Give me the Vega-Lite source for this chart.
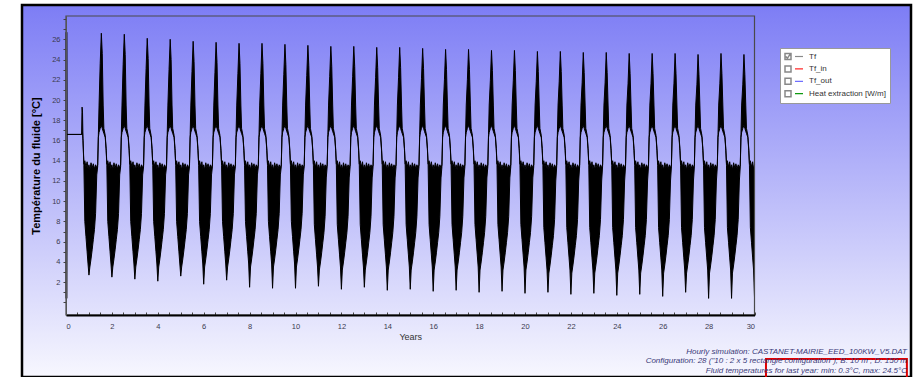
{
  "$schema": "https://vega.github.io/schema/vega-lite/v6.json",
  "width": 889,
  "height": 372,
  "autosize": "none",
  "padding": {"left": 22, "top": 5, "right": 12, "bottom": 0},
  "background": "white",
  "config": {
    "font": "Liberation Sans",
    "view": {"stroke": null},
    "axis": {"labelOverlap": false, "labelBound": false, "zindex": 2}
  },
  "title": {
    "text": "Hourly simulation: CASTANET-MAIRIE_EED_100KW_V5.DAT",
    "subtitle": ["Configuration: 28 (\"10 : 2 x 5 rectangle configuration\"); B: 10 m ; D: 150 m", "Fluid temperatures for last year: min: 0.3°C, max: 24.5°C"],
    "orient": "bottom",
    "anchor": "end",
    "frame": "group",
    "offset": -33.5,
    "dx": -4,
    "font": "Liberation Sans",
    "fontSize": 8,
    "fontStyle": "italic",
    "fontWeight": "normal",
    "color": "#3a3a78",
    "subtitleFont": "Liberation Sans",
    "subtitleFontSize": 8,
    "subtitleFontStyle": "italic",
    "subtitleColor": "#3a3a78",
    "subtitlePadding": 1.5,
    "subtitleLineHeight": 9.5
  },
  "layer": [
    {
      "data": {"values": [{}]},
      "mark": {
        "type": "rect", "clip": false, "stroke": "black", "strokeWidth": 2.5,
        "fill": {"gradient": "linear", "x1": 0, "y1": 0, "x2": 0, "y2": 1, "stops": [{"offset": 0, "color": "#7d7df5"}, {"offset": 1, "color": "#f7f7fe"}]}
      },
      "encoding": {
        "x": {"value": 0},
        "x2": {"value": "width"},
        "y": {"value": 0},
        "y2": {"value": "height"}
      }
    },
    {
      "data": {"values": [
        {"t":0,"lo":0.4,"hi":26.7},{"t":0.04,"lo":0.4,"hi":26.7},{"t":0.05,"lo":16.6,"hi":16.6},{"t":0.68,"lo":16.6,"hi":16.6},{"t":0.7,"lo":16.6,"hi":19.3},{"t":0.72,"lo":16.8,"hi":18.8},{"t":0.74,"lo":16.0,"hi":16.2},
        {"t":0.78,"lo":13.5,"hi":13.7},{"t":0.82,"lo":8.0,"hi":14.0},{"t":0.87,"lo":6.5,"hi":13.4},{"t":0.92,"lo":5.0,"hi":13.9},{"t":0.96,"lo":3.8,"hi":13.2},{"t":1.0,"lo":2.7,"hi":13.6},{"t":1.04,"lo":3.5,"hi":13.1},{"t":1.09,"lo":4.3,"hi":13.8},{"t":1.14,"lo":5.2,"hi":13.3},{"t":1.19,"lo":6.2,"hi":13.7},{"t":1.24,"lo":7.2,"hi":13.2},{"t":1.29,"lo":8.8,"hi":13.6},{"t":1.34,"lo":12.6,"hi":13.3},{"t":1.38,"lo":13.4,"hi":13.6},{"t":1.41,"lo":16.3,"hi":16.6},{"t":1.44,"lo":16.8,"hi":19.5},{"t":1.49,"lo":17.2,"hi":23.6},{"t":1.54,"lo":17.5,"hi":26.6},{"t":1.58,"lo":17.2,"hi":24.6},{"t":1.62,"lo":16.9,"hi":19.5},{"t":1.65,"lo":16.7,"hi":17.2},{"t":1.71,"lo":16.3,"hi":16.5},{"t":1.75,"lo":15.0,"hi":15.2},
        {"t":1.78,"lo":13.5,"hi":13.7},{"t":1.82,"lo":8.0,"hi":14.0},{"t":1.87,"lo":6.5,"hi":13.4},{"t":1.92,"lo":5.0,"hi":13.9},{"t":1.96,"lo":3.8,"hi":13.2},{"t":2.0,"lo":2.5,"hi":13.6},{"t":2.04,"lo":3.5,"hi":13.1},{"t":2.09,"lo":4.3,"hi":13.8},{"t":2.14,"lo":5.2,"hi":13.3},{"t":2.19,"lo":6.2,"hi":13.7},{"t":2.24,"lo":7.2,"hi":13.2},{"t":2.29,"lo":8.8,"hi":13.6},{"t":2.34,"lo":12.6,"hi":13.3},{"t":2.38,"lo":13.4,"hi":13.6},{"t":2.41,"lo":16.3,"hi":16.6},{"t":2.44,"lo":16.8,"hi":19.5},{"t":2.49,"lo":17.2,"hi":23.5},{"t":2.54,"lo":17.5,"hi":26.5},{"t":2.58,"lo":17.2,"hi":24.5},{"t":2.62,"lo":16.9,"hi":19.5},{"t":2.65,"lo":16.7,"hi":17.2},{"t":2.71,"lo":16.3,"hi":16.5},{"t":2.75,"lo":15.0,"hi":15.2},
        {"t":2.78,"lo":13.5,"hi":13.7},{"t":2.82,"lo":8.0,"hi":14.0},{"t":2.87,"lo":6.5,"hi":13.4},{"t":2.92,"lo":5.0,"hi":13.9},{"t":2.96,"lo":3.8,"hi":13.2},{"t":3.0,"lo":2.3,"hi":13.6},{"t":3.04,"lo":3.5,"hi":13.1},{"t":3.09,"lo":4.3,"hi":13.8},{"t":3.14,"lo":5.2,"hi":13.3},{"t":3.19,"lo":6.2,"hi":13.7},{"t":3.24,"lo":7.2,"hi":13.2},{"t":3.29,"lo":8.8,"hi":13.6},{"t":3.34,"lo":12.6,"hi":13.3},{"t":3.38,"lo":13.4,"hi":13.6},{"t":3.41,"lo":16.3,"hi":16.6},{"t":3.44,"lo":16.8,"hi":19.5},{"t":3.49,"lo":17.2,"hi":23.1},{"t":3.54,"lo":17.5,"hi":26.1},{"t":3.58,"lo":17.2,"hi":24.1},{"t":3.62,"lo":16.9,"hi":19.5},{"t":3.65,"lo":16.7,"hi":17.2},{"t":3.71,"lo":16.3,"hi":16.5},{"t":3.75,"lo":15.0,"hi":15.2},
        {"t":3.78,"lo":13.5,"hi":13.7},{"t":3.82,"lo":8.0,"hi":14.0},{"t":3.87,"lo":6.5,"hi":13.4},{"t":3.92,"lo":5.0,"hi":13.9},{"t":3.96,"lo":3.8,"hi":13.2},{"t":4.0,"lo":2.1,"hi":13.6},{"t":4.04,"lo":3.5,"hi":13.1},{"t":4.09,"lo":4.3,"hi":13.8},{"t":4.14,"lo":5.2,"hi":13.3},{"t":4.19,"lo":6.2,"hi":13.7},{"t":4.24,"lo":7.2,"hi":13.2},{"t":4.29,"lo":8.8,"hi":13.6},{"t":4.34,"lo":12.6,"hi":13.3},{"t":4.38,"lo":13.4,"hi":13.6},{"t":4.41,"lo":16.3,"hi":16.6},{"t":4.44,"lo":16.8,"hi":19.5},{"t":4.49,"lo":17.2,"hi":23.0},{"t":4.54,"lo":17.5,"hi":26.0},{"t":4.58,"lo":17.2,"hi":24.0},{"t":4.62,"lo":16.9,"hi":19.5},{"t":4.65,"lo":16.7,"hi":17.2},{"t":4.71,"lo":16.3,"hi":16.5},{"t":4.75,"lo":15.0,"hi":15.2},
        {"t":4.78,"lo":13.5,"hi":13.7},{"t":4.82,"lo":8.0,"hi":14.0},{"t":4.87,"lo":6.5,"hi":13.4},{"t":4.92,"lo":5.0,"hi":13.9},{"t":4.96,"lo":3.8,"hi":13.2},{"t":5.0,"lo":2.6,"hi":13.6},{"t":5.04,"lo":3.5,"hi":13.1},{"t":5.09,"lo":4.3,"hi":13.8},{"t":5.14,"lo":5.2,"hi":13.3},{"t":5.19,"lo":6.2,"hi":13.7},{"t":5.24,"lo":7.2,"hi":13.2},{"t":5.29,"lo":8.8,"hi":13.6},{"t":5.34,"lo":12.6,"hi":13.3},{"t":5.38,"lo":13.4,"hi":13.6},{"t":5.41,"lo":16.3,"hi":16.6},{"t":5.44,"lo":16.8,"hi":19.5},{"t":5.49,"lo":17.2,"hi":22.8},{"t":5.54,"lo":17.5,"hi":25.8},{"t":5.58,"lo":17.2,"hi":23.8},{"t":5.62,"lo":16.9,"hi":19.5},{"t":5.65,"lo":16.7,"hi":17.2},{"t":5.71,"lo":16.3,"hi":16.5},{"t":5.75,"lo":15.0,"hi":15.2},
        {"t":5.78,"lo":13.5,"hi":13.7},{"t":5.82,"lo":8.0,"hi":14.0},{"t":5.87,"lo":6.5,"hi":13.4},{"t":5.92,"lo":5.0,"hi":13.9},{"t":5.96,"lo":3.8,"hi":13.2},{"t":6.0,"lo":1.8,"hi":13.6},{"t":6.04,"lo":3.5,"hi":13.1},{"t":6.09,"lo":4.3,"hi":13.8},{"t":6.14,"lo":5.2,"hi":13.3},{"t":6.19,"lo":6.2,"hi":13.7},{"t":6.24,"lo":7.2,"hi":13.2},{"t":6.29,"lo":8.8,"hi":13.6},{"t":6.34,"lo":12.6,"hi":13.3},{"t":6.38,"lo":13.4,"hi":13.6},{"t":6.41,"lo":16.3,"hi":16.6},{"t":6.44,"lo":16.8,"hi":19.5},{"t":6.49,"lo":17.2,"hi":22.7},{"t":6.54,"lo":17.5,"hi":25.7},{"t":6.58,"lo":17.2,"hi":23.7},{"t":6.62,"lo":16.9,"hi":19.5},{"t":6.65,"lo":16.7,"hi":17.2},{"t":6.71,"lo":16.3,"hi":16.5},{"t":6.75,"lo":15.0,"hi":15.2},
        {"t":6.78,"lo":13.5,"hi":13.7},{"t":6.82,"lo":8.0,"hi":14.0},{"t":6.87,"lo":6.5,"hi":13.4},{"t":6.92,"lo":5.0,"hi":13.9},{"t":6.96,"lo":3.8,"hi":13.2},{"t":7.0,"lo":2.2,"hi":13.6},{"t":7.04,"lo":3.5,"hi":13.1},{"t":7.09,"lo":4.3,"hi":13.8},{"t":7.14,"lo":5.2,"hi":13.3},{"t":7.19,"lo":6.2,"hi":13.7},{"t":7.24,"lo":7.2,"hi":13.2},{"t":7.29,"lo":8.8,"hi":13.6},{"t":7.34,"lo":12.6,"hi":13.3},{"t":7.38,"lo":13.4,"hi":13.6},{"t":7.41,"lo":16.3,"hi":16.6},{"t":7.44,"lo":16.8,"hi":19.5},{"t":7.49,"lo":17.2,"hi":22.6},{"t":7.54,"lo":17.5,"hi":25.6},{"t":7.58,"lo":17.2,"hi":23.6},{"t":7.62,"lo":16.9,"hi":19.5},{"t":7.65,"lo":16.7,"hi":17.2},{"t":7.71,"lo":16.3,"hi":16.5},{"t":7.75,"lo":15.0,"hi":15.2},
        {"t":7.78,"lo":13.5,"hi":13.7},{"t":7.82,"lo":8.0,"hi":14.0},{"t":7.87,"lo":6.5,"hi":13.4},{"t":7.92,"lo":5.0,"hi":13.9},{"t":7.96,"lo":3.8,"hi":13.2},{"t":8.0,"lo":1.5,"hi":13.6},{"t":8.04,"lo":3.5,"hi":13.1},{"t":8.09,"lo":4.3,"hi":13.8},{"t":8.14,"lo":5.2,"hi":13.3},{"t":8.19,"lo":6.2,"hi":13.7},{"t":8.24,"lo":7.2,"hi":13.2},{"t":8.29,"lo":8.8,"hi":13.6},{"t":8.34,"lo":12.6,"hi":13.3},{"t":8.38,"lo":13.4,"hi":13.6},{"t":8.41,"lo":16.3,"hi":16.6},{"t":8.44,"lo":16.8,"hi":19.5},{"t":8.49,"lo":17.2,"hi":22.6},{"t":8.54,"lo":17.5,"hi":25.6},{"t":8.58,"lo":17.2,"hi":23.6},{"t":8.62,"lo":16.9,"hi":19.5},{"t":8.65,"lo":16.7,"hi":17.2},{"t":8.71,"lo":16.3,"hi":16.5},{"t":8.75,"lo":15.0,"hi":15.2},
        {"t":8.78,"lo":13.5,"hi":13.7},{"t":8.82,"lo":8.0,"hi":14.0},{"t":8.87,"lo":6.5,"hi":13.4},{"t":8.92,"lo":5.0,"hi":13.9},{"t":8.96,"lo":3.8,"hi":13.2},{"t":9.0,"lo":1.4,"hi":13.6},{"t":9.04,"lo":3.5,"hi":13.1},{"t":9.09,"lo":4.3,"hi":13.8},{"t":9.14,"lo":5.2,"hi":13.3},{"t":9.19,"lo":6.2,"hi":13.7},{"t":9.24,"lo":7.2,"hi":13.2},{"t":9.29,"lo":8.8,"hi":13.6},{"t":9.34,"lo":12.6,"hi":13.3},{"t":9.38,"lo":13.4,"hi":13.6},{"t":9.41,"lo":16.3,"hi":16.6},{"t":9.44,"lo":16.8,"hi":19.5},{"t":9.49,"lo":17.2,"hi":22.5},{"t":9.54,"lo":17.5,"hi":25.5},{"t":9.58,"lo":17.2,"hi":23.5},{"t":9.62,"lo":16.9,"hi":19.5},{"t":9.65,"lo":16.7,"hi":17.2},{"t":9.71,"lo":16.3,"hi":16.5},{"t":9.75,"lo":15.0,"hi":15.2},
        {"t":9.78,"lo":13.5,"hi":13.7},{"t":9.82,"lo":8.0,"hi":14.0},{"t":9.87,"lo":6.5,"hi":13.4},{"t":9.92,"lo":5.0,"hi":13.9},{"t":9.96,"lo":3.8,"hi":13.2},{"t":10.0,"lo":1.4,"hi":13.6},{"t":10.04,"lo":3.5,"hi":13.1},{"t":10.09,"lo":4.3,"hi":13.8},{"t":10.14,"lo":5.2,"hi":13.3},{"t":10.19,"lo":6.2,"hi":13.7},{"t":10.24,"lo":7.2,"hi":13.2},{"t":10.29,"lo":8.8,"hi":13.6},{"t":10.34,"lo":12.6,"hi":13.3},{"t":10.38,"lo":13.4,"hi":13.6},{"t":10.41,"lo":16.3,"hi":16.6},{"t":10.44,"lo":16.8,"hi":19.5},{"t":10.49,"lo":17.2,"hi":22.4},{"t":10.54,"lo":17.5,"hi":25.4},{"t":10.58,"lo":17.2,"hi":23.4},{"t":10.62,"lo":16.9,"hi":19.5},{"t":10.65,"lo":16.7,"hi":17.2},{"t":10.71,"lo":16.3,"hi":16.5},{"t":10.75,"lo":15.0,"hi":15.2},
        {"t":10.78,"lo":13.5,"hi":13.7},{"t":10.82,"lo":7.7,"hi":14.0},{"t":10.87,"lo":6.2,"hi":13.4},{"t":10.92,"lo":4.7,"hi":13.9},{"t":10.96,"lo":3.5,"hi":13.2},{"t":11.0,"lo":1.6,"hi":13.6},{"t":11.04,"lo":3.2,"hi":13.1},{"t":11.09,"lo":4.0,"hi":13.8},{"t":11.14,"lo":4.9,"hi":13.3},{"t":11.19,"lo":5.9,"hi":13.7},{"t":11.24,"lo":6.9,"hi":13.2},{"t":11.29,"lo":8.5,"hi":13.6},{"t":11.34,"lo":12.3,"hi":13.3},{"t":11.38,"lo":13.4,"hi":13.6},{"t":11.41,"lo":16.3,"hi":16.6},{"t":11.44,"lo":16.8,"hi":19.5},{"t":11.49,"lo":17.2,"hi":22.3},{"t":11.54,"lo":17.5,"hi":25.3},{"t":11.58,"lo":17.2,"hi":23.3},{"t":11.62,"lo":16.9,"hi":19.5},{"t":11.65,"lo":16.7,"hi":17.2},{"t":11.71,"lo":16.3,"hi":16.5},{"t":11.75,"lo":15.0,"hi":15.2},
        {"t":11.78,"lo":13.5,"hi":13.7},{"t":11.82,"lo":7.7,"hi":14.0},{"t":11.87,"lo":6.2,"hi":13.4},{"t":11.92,"lo":4.7,"hi":13.9},{"t":11.96,"lo":3.5,"hi":13.2},{"t":12.0,"lo":1.3,"hi":13.6},{"t":12.04,"lo":3.2,"hi":13.1},{"t":12.09,"lo":4.0,"hi":13.8},{"t":12.14,"lo":4.9,"hi":13.3},{"t":12.19,"lo":5.9,"hi":13.7},{"t":12.24,"lo":6.9,"hi":13.2},{"t":12.29,"lo":8.5,"hi":13.6},{"t":12.34,"lo":12.3,"hi":13.3},{"t":12.38,"lo":13.4,"hi":13.6},{"t":12.41,"lo":16.3,"hi":16.6},{"t":12.44,"lo":16.8,"hi":19.5},{"t":12.49,"lo":17.2,"hi":22.3},{"t":12.54,"lo":17.5,"hi":25.3},{"t":12.58,"lo":17.2,"hi":23.3},{"t":12.62,"lo":16.9,"hi":19.5},{"t":12.65,"lo":16.7,"hi":17.2},{"t":12.71,"lo":16.3,"hi":16.5},{"t":12.75,"lo":15.0,"hi":15.2},
        {"t":12.78,"lo":13.5,"hi":13.7},{"t":12.82,"lo":7.7,"hi":14.0},{"t":12.87,"lo":6.2,"hi":13.4},{"t":12.92,"lo":4.7,"hi":13.9},{"t":12.96,"lo":3.5,"hi":13.2},{"t":13.0,"lo":1.5,"hi":13.6},{"t":13.04,"lo":3.2,"hi":13.1},{"t":13.09,"lo":4.0,"hi":13.8},{"t":13.14,"lo":4.9,"hi":13.3},{"t":13.19,"lo":5.9,"hi":13.7},{"t":13.24,"lo":6.9,"hi":13.2},{"t":13.29,"lo":8.5,"hi":13.6},{"t":13.34,"lo":12.3,"hi":13.3},{"t":13.38,"lo":13.4,"hi":13.6},{"t":13.41,"lo":16.3,"hi":16.6},{"t":13.44,"lo":16.8,"hi":19.5},{"t":13.49,"lo":17.2,"hi":22.2},{"t":13.54,"lo":17.5,"hi":25.2},{"t":13.58,"lo":17.2,"hi":23.2},{"t":13.62,"lo":16.9,"hi":19.5},{"t":13.65,"lo":16.7,"hi":17.2},{"t":13.71,"lo":16.3,"hi":16.5},{"t":13.75,"lo":15.0,"hi":15.2},
        {"t":13.78,"lo":13.5,"hi":13.7},{"t":13.82,"lo":7.7,"hi":14.0},{"t":13.87,"lo":6.2,"hi":13.4},{"t":13.92,"lo":4.7,"hi":13.9},{"t":13.96,"lo":3.5,"hi":13.2},{"t":14.0,"lo":1.2,"hi":13.6},{"t":14.04,"lo":3.2,"hi":13.1},{"t":14.09,"lo":4.0,"hi":13.8},{"t":14.14,"lo":4.9,"hi":13.3},{"t":14.19,"lo":5.9,"hi":13.7},{"t":14.24,"lo":6.9,"hi":13.2},{"t":14.29,"lo":8.5,"hi":13.6},{"t":14.34,"lo":12.3,"hi":13.3},{"t":14.38,"lo":13.4,"hi":13.6},{"t":14.41,"lo":16.3,"hi":16.6},{"t":14.44,"lo":16.8,"hi":19.5},{"t":14.49,"lo":17.2,"hi":22.2},{"t":14.54,"lo":17.5,"hi":25.2},{"t":14.58,"lo":17.2,"hi":23.2},{"t":14.62,"lo":16.9,"hi":19.5},{"t":14.65,"lo":16.7,"hi":17.2},{"t":14.71,"lo":16.3,"hi":16.5},{"t":14.75,"lo":15.0,"hi":15.2},
        {"t":14.78,"lo":13.5,"hi":13.7},{"t":14.82,"lo":7.7,"hi":14.0},{"t":14.87,"lo":6.2,"hi":13.4},{"t":14.92,"lo":4.7,"hi":13.9},{"t":14.96,"lo":3.5,"hi":13.2},{"t":15.0,"lo":1.3,"hi":13.6},{"t":15.04,"lo":3.2,"hi":13.1},{"t":15.09,"lo":4.0,"hi":13.8},{"t":15.14,"lo":4.9,"hi":13.3},{"t":15.19,"lo":5.9,"hi":13.7},{"t":15.24,"lo":6.9,"hi":13.2},{"t":15.29,"lo":8.5,"hi":13.6},{"t":15.34,"lo":12.3,"hi":13.3},{"t":15.38,"lo":13.4,"hi":13.6},{"t":15.41,"lo":16.3,"hi":16.6},{"t":15.44,"lo":16.8,"hi":19.5},{"t":15.49,"lo":17.2,"hi":22.1},{"t":15.54,"lo":17.5,"hi":25.1},{"t":15.58,"lo":17.2,"hi":23.1},{"t":15.62,"lo":16.9,"hi":19.5},{"t":15.65,"lo":16.7,"hi":17.2},{"t":15.71,"lo":16.3,"hi":16.5},{"t":15.75,"lo":15.0,"hi":15.2},
        {"t":15.78,"lo":13.5,"hi":13.7},{"t":15.82,"lo":7.7,"hi":14.0},{"t":15.87,"lo":6.2,"hi":13.4},{"t":15.92,"lo":4.7,"hi":13.9},{"t":15.96,"lo":3.5,"hi":13.2},{"t":16.0,"lo":1.1,"hi":13.6},{"t":16.04,"lo":3.2,"hi":13.1},{"t":16.09,"lo":4.0,"hi":13.8},{"t":16.14,"lo":4.9,"hi":13.3},{"t":16.19,"lo":5.9,"hi":13.7},{"t":16.24,"lo":6.9,"hi":13.2},{"t":16.29,"lo":8.5,"hi":13.6},{"t":16.34,"lo":12.3,"hi":13.3},{"t":16.38,"lo":13.4,"hi":13.6},{"t":16.41,"lo":16.3,"hi":16.6},{"t":16.44,"lo":16.8,"hi":19.5},{"t":16.49,"lo":17.2,"hi":22.0},{"t":16.54,"lo":17.5,"hi":25.0},{"t":16.58,"lo":17.2,"hi":23.0},{"t":16.62,"lo":16.9,"hi":19.5},{"t":16.65,"lo":16.7,"hi":17.2},{"t":16.71,"lo":16.3,"hi":16.5},{"t":16.75,"lo":15.0,"hi":15.2},
        {"t":16.78,"lo":13.5,"hi":13.7},{"t":16.82,"lo":7.7,"hi":14.0},{"t":16.87,"lo":6.2,"hi":13.4},{"t":16.92,"lo":4.7,"hi":13.9},{"t":16.96,"lo":3.5,"hi":13.2},{"t":17.0,"lo":1.2,"hi":13.6},{"t":17.04,"lo":3.2,"hi":13.1},{"t":17.09,"lo":4.0,"hi":13.8},{"t":17.14,"lo":4.9,"hi":13.3},{"t":17.19,"lo":5.9,"hi":13.7},{"t":17.24,"lo":6.9,"hi":13.2},{"t":17.29,"lo":8.5,"hi":13.6},{"t":17.34,"lo":12.3,"hi":13.3},{"t":17.38,"lo":13.4,"hi":13.6},{"t":17.41,"lo":16.3,"hi":16.6},{"t":17.44,"lo":16.8,"hi":19.5},{"t":17.49,"lo":17.2,"hi":22.0},{"t":17.54,"lo":17.5,"hi":25.0},{"t":17.58,"lo":17.2,"hi":23.0},{"t":17.62,"lo":16.9,"hi":19.5},{"t":17.65,"lo":16.7,"hi":17.2},{"t":17.71,"lo":16.3,"hi":16.5},{"t":17.75,"lo":15.0,"hi":15.2},
        {"t":17.78,"lo":13.5,"hi":13.7},{"t":17.82,"lo":7.7,"hi":14.0},{"t":17.87,"lo":6.2,"hi":13.4},{"t":17.92,"lo":4.7,"hi":13.9},{"t":17.96,"lo":3.5,"hi":13.2},{"t":18.0,"lo":1.0,"hi":13.6},{"t":18.04,"lo":3.2,"hi":13.1},{"t":18.09,"lo":4.0,"hi":13.8},{"t":18.14,"lo":4.9,"hi":13.3},{"t":18.19,"lo":5.9,"hi":13.7},{"t":18.24,"lo":6.9,"hi":13.2},{"t":18.29,"lo":8.5,"hi":13.6},{"t":18.34,"lo":12.3,"hi":13.3},{"t":18.38,"lo":13.4,"hi":13.6},{"t":18.41,"lo":16.3,"hi":16.6},{"t":18.44,"lo":16.8,"hi":19.5},{"t":18.49,"lo":17.2,"hi":21.9},{"t":18.54,"lo":17.5,"hi":24.9},{"t":18.58,"lo":17.2,"hi":22.9},{"t":18.62,"lo":16.9,"hi":19.5},{"t":18.65,"lo":16.7,"hi":17.2},{"t":18.71,"lo":16.3,"hi":16.5},{"t":18.75,"lo":15.0,"hi":15.2},
        {"t":18.78,"lo":13.5,"hi":13.7},{"t":18.82,"lo":7.7,"hi":14.0},{"t":18.87,"lo":6.2,"hi":13.4},{"t":18.92,"lo":4.7,"hi":13.9},{"t":18.96,"lo":3.5,"hi":13.2},{"t":19.0,"lo":1.1,"hi":13.6},{"t":19.04,"lo":3.2,"hi":13.1},{"t":19.09,"lo":4.0,"hi":13.8},{"t":19.14,"lo":4.9,"hi":13.3},{"t":19.19,"lo":5.9,"hi":13.7},{"t":19.24,"lo":6.9,"hi":13.2},{"t":19.29,"lo":8.5,"hi":13.6},{"t":19.34,"lo":12.3,"hi":13.3},{"t":19.38,"lo":13.4,"hi":13.6},{"t":19.41,"lo":16.3,"hi":16.6},{"t":19.44,"lo":16.8,"hi":19.5},{"t":19.49,"lo":17.2,"hi":21.9},{"t":19.54,"lo":17.5,"hi":24.9},{"t":19.58,"lo":17.2,"hi":22.9},{"t":19.62,"lo":16.9,"hi":19.5},{"t":19.65,"lo":16.7,"hi":17.2},{"t":19.71,"lo":16.3,"hi":16.5},{"t":19.75,"lo":15.0,"hi":15.2},
        {"t":19.78,"lo":13.5,"hi":13.7},{"t":19.82,"lo":7.7,"hi":14.0},{"t":19.87,"lo":6.2,"hi":13.4},{"t":19.92,"lo":4.7,"hi":13.9},{"t":19.96,"lo":3.5,"hi":13.2},{"t":20.0,"lo":0.9,"hi":13.6},{"t":20.04,"lo":3.2,"hi":13.1},{"t":20.09,"lo":4.0,"hi":13.8},{"t":20.14,"lo":4.9,"hi":13.3},{"t":20.19,"lo":5.9,"hi":13.7},{"t":20.24,"lo":6.9,"hi":13.2},{"t":20.29,"lo":8.5,"hi":13.6},{"t":20.34,"lo":12.3,"hi":13.3},{"t":20.38,"lo":13.4,"hi":13.6},{"t":20.41,"lo":16.3,"hi":16.6},{"t":20.44,"lo":16.8,"hi":19.5},{"t":20.49,"lo":17.2,"hi":21.8},{"t":20.54,"lo":17.5,"hi":24.8},{"t":20.58,"lo":17.2,"hi":22.8},{"t":20.62,"lo":16.9,"hi":19.5},{"t":20.65,"lo":16.7,"hi":17.2},{"t":20.71,"lo":16.3,"hi":16.5},{"t":20.75,"lo":15.0,"hi":15.2},
        {"t":20.78,"lo":13.5,"hi":13.7},{"t":20.82,"lo":7.4,"hi":14.0},{"t":20.87,"lo":5.9,"hi":13.4},{"t":20.92,"lo":4.4,"hi":13.9},{"t":20.96,"lo":3.2,"hi":13.2},{"t":21.0,"lo":1.0,"hi":13.6},{"t":21.04,"lo":2.9,"hi":13.1},{"t":21.09,"lo":3.7,"hi":13.8},{"t":21.14,"lo":4.6,"hi":13.3},{"t":21.19,"lo":5.6,"hi":13.7},{"t":21.24,"lo":6.6,"hi":13.2},{"t":21.29,"lo":8.2,"hi":13.6},{"t":21.34,"lo":12.0,"hi":13.3},{"t":21.38,"lo":13.4,"hi":13.6},{"t":21.41,"lo":16.3,"hi":16.6},{"t":21.44,"lo":16.8,"hi":19.5},{"t":21.49,"lo":17.2,"hi":21.8},{"t":21.54,"lo":17.5,"hi":24.8},{"t":21.58,"lo":17.2,"hi":22.8},{"t":21.62,"lo":16.9,"hi":19.5},{"t":21.65,"lo":16.7,"hi":17.2},{"t":21.71,"lo":16.3,"hi":16.5},{"t":21.75,"lo":15.0,"hi":15.2},
        {"t":21.78,"lo":13.5,"hi":13.7},{"t":21.82,"lo":7.4,"hi":14.0},{"t":21.87,"lo":5.9,"hi":13.4},{"t":21.92,"lo":4.4,"hi":13.9},{"t":21.96,"lo":3.2,"hi":13.2},{"t":22.0,"lo":0.8,"hi":13.6},{"t":22.04,"lo":2.9,"hi":13.1},{"t":22.09,"lo":3.7,"hi":13.8},{"t":22.14,"lo":4.6,"hi":13.3},{"t":22.19,"lo":5.6,"hi":13.7},{"t":22.24,"lo":6.6,"hi":13.2},{"t":22.29,"lo":8.2,"hi":13.6},{"t":22.34,"lo":12.0,"hi":13.3},{"t":22.38,"lo":13.4,"hi":13.6},{"t":22.41,"lo":16.3,"hi":16.6},{"t":22.44,"lo":16.8,"hi":19.5},{"t":22.49,"lo":17.2,"hi":21.7},{"t":22.54,"lo":17.5,"hi":24.7},{"t":22.58,"lo":17.2,"hi":22.7},{"t":22.62,"lo":16.9,"hi":19.5},{"t":22.65,"lo":16.7,"hi":17.2},{"t":22.71,"lo":16.3,"hi":16.5},{"t":22.75,"lo":15.0,"hi":15.2},
        {"t":22.78,"lo":13.5,"hi":13.7},{"t":22.82,"lo":7.4,"hi":14.0},{"t":22.87,"lo":5.9,"hi":13.4},{"t":22.92,"lo":4.4,"hi":13.9},{"t":22.96,"lo":3.2,"hi":13.2},{"t":23.0,"lo":0.9,"hi":13.6},{"t":23.04,"lo":2.9,"hi":13.1},{"t":23.09,"lo":3.7,"hi":13.8},{"t":23.14,"lo":4.6,"hi":13.3},{"t":23.19,"lo":5.6,"hi":13.7},{"t":23.24,"lo":6.6,"hi":13.2},{"t":23.29,"lo":8.2,"hi":13.6},{"t":23.34,"lo":12.0,"hi":13.3},{"t":23.38,"lo":13.4,"hi":13.6},{"t":23.41,"lo":16.3,"hi":16.6},{"t":23.44,"lo":16.8,"hi":19.5},{"t":23.49,"lo":17.2,"hi":21.7},{"t":23.54,"lo":17.5,"hi":24.7},{"t":23.58,"lo":17.2,"hi":22.7},{"t":23.62,"lo":16.9,"hi":19.5},{"t":23.65,"lo":16.7,"hi":17.2},{"t":23.71,"lo":16.3,"hi":16.5},{"t":23.75,"lo":15.0,"hi":15.2},
        {"t":23.78,"lo":13.5,"hi":13.7},{"t":23.82,"lo":7.4,"hi":14.0},{"t":23.87,"lo":5.9,"hi":13.4},{"t":23.92,"lo":4.4,"hi":13.9},{"t":23.96,"lo":3.2,"hi":13.2},{"t":24.0,"lo":0.7,"hi":13.6},{"t":24.04,"lo":2.9,"hi":13.1},{"t":24.09,"lo":3.7,"hi":13.8},{"t":24.14,"lo":4.6,"hi":13.3},{"t":24.19,"lo":5.6,"hi":13.7},{"t":24.24,"lo":6.6,"hi":13.2},{"t":24.29,"lo":8.2,"hi":13.6},{"t":24.34,"lo":12.0,"hi":13.3},{"t":24.38,"lo":13.4,"hi":13.6},{"t":24.41,"lo":16.3,"hi":16.6},{"t":24.44,"lo":16.8,"hi":19.5},{"t":24.49,"lo":17.2,"hi":21.6},{"t":24.54,"lo":17.5,"hi":24.6},{"t":24.58,"lo":17.2,"hi":22.6},{"t":24.62,"lo":16.9,"hi":19.5},{"t":24.65,"lo":16.7,"hi":17.2},{"t":24.71,"lo":16.3,"hi":16.5},{"t":24.75,"lo":15.0,"hi":15.2},
        {"t":24.78,"lo":13.5,"hi":13.7},{"t":24.82,"lo":7.4,"hi":14.0},{"t":24.87,"lo":5.9,"hi":13.4},{"t":24.92,"lo":4.4,"hi":13.9},{"t":24.96,"lo":3.2,"hi":13.2},{"t":25.0,"lo":0.8,"hi":13.6},{"t":25.04,"lo":2.9,"hi":13.1},{"t":25.09,"lo":3.7,"hi":13.8},{"t":25.14,"lo":4.6,"hi":13.3},{"t":25.19,"lo":5.6,"hi":13.7},{"t":25.24,"lo":6.6,"hi":13.2},{"t":25.29,"lo":8.2,"hi":13.6},{"t":25.34,"lo":12.0,"hi":13.3},{"t":25.38,"lo":13.4,"hi":13.6},{"t":25.41,"lo":16.3,"hi":16.6},{"t":25.44,"lo":16.8,"hi":19.5},{"t":25.49,"lo":17.2,"hi":21.6},{"t":25.54,"lo":17.5,"hi":24.6},{"t":25.58,"lo":17.2,"hi":22.6},{"t":25.62,"lo":16.9,"hi":19.5},{"t":25.65,"lo":16.7,"hi":17.2},{"t":25.71,"lo":16.3,"hi":16.5},{"t":25.75,"lo":15.0,"hi":15.2},
        {"t":25.78,"lo":13.5,"hi":13.7},{"t":25.82,"lo":7.4,"hi":14.0},{"t":25.87,"lo":5.9,"hi":13.4},{"t":25.92,"lo":4.4,"hi":13.9},{"t":25.96,"lo":3.2,"hi":13.2},{"t":26.0,"lo":0.6,"hi":13.6},{"t":26.04,"lo":2.9,"hi":13.1},{"t":26.09,"lo":3.7,"hi":13.8},{"t":26.14,"lo":4.6,"hi":13.3},{"t":26.19,"lo":5.6,"hi":13.7},{"t":26.24,"lo":6.6,"hi":13.2},{"t":26.29,"lo":8.2,"hi":13.6},{"t":26.34,"lo":12.0,"hi":13.3},{"t":26.38,"lo":13.4,"hi":13.6},{"t":26.41,"lo":16.3,"hi":16.6},{"t":26.44,"lo":16.8,"hi":19.5},{"t":26.49,"lo":17.2,"hi":21.6},{"t":26.54,"lo":17.5,"hi":24.6},{"t":26.58,"lo":17.2,"hi":22.6},{"t":26.62,"lo":16.9,"hi":19.5},{"t":26.65,"lo":16.7,"hi":17.2},{"t":26.71,"lo":16.3,"hi":16.5},{"t":26.75,"lo":15.0,"hi":15.2},
        {"t":26.78,"lo":13.5,"hi":13.7},{"t":26.82,"lo":7.4,"hi":14.0},{"t":26.87,"lo":5.9,"hi":13.4},{"t":26.92,"lo":4.4,"hi":13.9},{"t":26.96,"lo":3.2,"hi":13.2},{"t":27.0,"lo":1.0,"hi":13.6},{"t":27.04,"lo":2.9,"hi":13.1},{"t":27.09,"lo":3.7,"hi":13.8},{"t":27.14,"lo":4.6,"hi":13.3},{"t":27.19,"lo":5.6,"hi":13.7},{"t":27.24,"lo":6.6,"hi":13.2},{"t":27.29,"lo":8.2,"hi":13.6},{"t":27.34,"lo":12.0,"hi":13.3},{"t":27.38,"lo":13.4,"hi":13.6},{"t":27.41,"lo":16.3,"hi":16.6},{"t":27.44,"lo":16.8,"hi":19.5},{"t":27.49,"lo":17.2,"hi":21.5},{"t":27.54,"lo":17.5,"hi":24.5},{"t":27.58,"lo":17.2,"hi":22.5},{"t":27.62,"lo":16.9,"hi":19.5},{"t":27.65,"lo":16.7,"hi":17.2},{"t":27.71,"lo":16.3,"hi":16.5},{"t":27.75,"lo":15.0,"hi":15.2},
        {"t":27.78,"lo":13.5,"hi":13.7},{"t":27.82,"lo":7.4,"hi":14.0},{"t":27.87,"lo":5.9,"hi":13.4},{"t":27.92,"lo":4.4,"hi":13.9},{"t":27.96,"lo":3.2,"hi":13.2},{"t":28.0,"lo":0.4,"hi":13.6},{"t":28.04,"lo":2.9,"hi":13.1},{"t":28.09,"lo":3.7,"hi":13.8},{"t":28.14,"lo":4.6,"hi":13.3},{"t":28.19,"lo":5.6,"hi":13.7},{"t":28.24,"lo":6.6,"hi":13.2},{"t":28.29,"lo":8.2,"hi":13.6},{"t":28.34,"lo":12.0,"hi":13.3},{"t":28.38,"lo":13.4,"hi":13.6},{"t":28.41,"lo":16.3,"hi":16.6},{"t":28.44,"lo":16.8,"hi":19.5},{"t":28.49,"lo":17.2,"hi":21.6},{"t":28.54,"lo":17.5,"hi":24.6},{"t":28.58,"lo":17.2,"hi":22.6},{"t":28.62,"lo":16.9,"hi":19.5},{"t":28.65,"lo":16.7,"hi":17.2},{"t":28.71,"lo":16.3,"hi":16.5},{"t":28.75,"lo":15.0,"hi":15.2},
        {"t":28.78,"lo":13.5,"hi":13.7},{"t":28.82,"lo":7.4,"hi":14.0},{"t":28.87,"lo":5.9,"hi":13.4},{"t":28.92,"lo":4.4,"hi":13.9},{"t":28.96,"lo":3.2,"hi":13.2},{"t":29.0,"lo":0.4,"hi":13.6},{"t":29.04,"lo":2.9,"hi":13.1},{"t":29.09,"lo":3.7,"hi":13.8},{"t":29.14,"lo":4.6,"hi":13.3},{"t":29.19,"lo":5.6,"hi":13.7},{"t":29.24,"lo":6.6,"hi":13.2},{"t":29.29,"lo":8.2,"hi":13.6},{"t":29.34,"lo":12.0,"hi":13.3},{"t":29.38,"lo":13.4,"hi":13.6},{"t":29.41,"lo":16.3,"hi":16.6},{"t":29.44,"lo":16.8,"hi":19.5},{"t":29.49,"lo":17.2,"hi":21.5},{"t":29.54,"lo":17.5,"hi":24.5},{"t":29.58,"lo":17.2,"hi":22.5},{"t":29.62,"lo":16.9,"hi":19.5},{"t":29.65,"lo":16.7,"hi":17.2},{"t":29.71,"lo":16.3,"hi":16.5},{"t":29.75,"lo":15.0,"hi":15.2},
        {"t":29.78,"lo":13.5,"hi":13.7},{"t":29.82,"lo":7.4,"hi":14.0},{"t":29.87,"lo":5.9,"hi":13.4},{"t":29.92,"lo":4.4,"hi":13.9},{"t":29.96,"lo":3.2,"hi":13.2},{"t":30.0,"lo":0.5,"hi":13.6}
      ]},
      "mark": {"type": "area", "fill": "black", "stroke": "black", "strokeWidth": 1, "line": false},
      "encoding": {
        "x": {
          "field": "t", "type": "quantitative",
          "scale": {"domain": [0, 30], "range": [44, 732.5], "nice": false, "zero": false},
          "axis": {
            "orient": "bottom", "offset": -62, "zindex": 2, "tickCount": 200,
            "values": [0,0.5,1,1.5,2,2.5,3,3.5,4,4.5,5,5.5,6,6.5,7,7.5,8,8.5,9,9.5,10,10.5,11,11.5,12,12.5,13,13.5,14,14.5,15,15.5,16,16.5,17,17.5,18,18.5,19,19.5,20,20.5,21,21.5,22,22.5,23,23.5,24,24.5,25,25.5,26,26.5,27,27.5,28,28.5,29,29.5,30],
            "labelExpr": "datum.value % 2 === 0 ? format(datum.value, 'd') : ''",
            "labelOverlap": false, "labelFontSize": 7.5, "labelColor": "#3a3a50", "labelPadding": 10,
            "tickSize": -3, "tickColor": "#444", "domainColor": "black", "domainWidth": 2, "grid": false,
            "title": "Years", "titleFontSize": 9, "titleFontWeight": "normal", "titleColor": "#333", "titlePadding": 3
          }
        },
        "y": {
          "field": "lo", "type": "quantitative",
          "scale": {"domain": [-1.24, 28.3], "range": [310, 11], "nice": false, "zero": false},
          "axis": {
            "orient": "left", "offset": -44, "zindex": 2, "tickCount": 200,
            "values": [0,1,2,3,4,5,6,7,8,9,10,11,12,13,14,15,16,17,18,19,20,21,22,23,24,25,26,27,28],
            "labelExpr": "datum.value % 2 === 0 && datum.value > 0 && datum.value < 27 ? format(datum.value, 'd') : ''",
            "labelOverlap": false, "labelFontSize": 7.5, "labelColor": "#3a3a50", "labelPadding": 3,
            "tickSize": 3, "tickColor": "#444", "domainColor": "#555", "domainWidth": 1, "grid": false,
            "title": "Température du fluide [°C]", "titleFontSize": 11, "titleFontWeight": "bold", "titleColor": "black", "titlePadding": 10
          }
        },
        "y2": {"field": "hi"}
      }
    },
    {
      "data": {"values": [{}]},
      "mark": {"type": "rect", "fill": "transparent", "stroke": "#4a4a4a", "strokeWidth": 1.2},
      "encoding": {
        "x": {"datum": 0, "type": "quantitative"},
        "x2": {"datum": 30},
        "y": {"datum": -1.24, "type": "quantitative"},
        "y2": {"datum": 28.3}
      }
    },
    {
      "data": {"values": [{}]},
      "mark": {"type": "rect", "fill": "transparent", "stroke": "#e00000", "strokeWidth": 2, "clip": false},
      "encoding": {
        "x": {"datum": 30.5, "type": "quantitative"},
        "x2": {"datum": 36.64},
        "y": {"datum": -5.59, "type": "quantitative"},
        "y2": {"datum": -7.7}
      }
    },
    {
      "data": {"values": [
        {"series": "Tf", "box": "b1"},
        {"series": "Tf_in", "box": "b2"},
        {"series": "Tf_out", "box": "b3"},
        {"series": "Heat extraction [W/m]", "box": "b4"}
      ]},
      "mark": {"type": "point", "opacity": 0},
      "encoding": {
        "color": {
          "field": "series", "type": "nominal",
          "scale": {"domain": ["Tf", "Tf_in", "Tf_out", "Heat extraction [W/m]"], "range": ["#8a8a8a", "#ff2a2a", "#6f6fff", "#109a10"]},
          "legend": {
            "orient": "none", "legendX": 758, "legendY": 43, "title": null,
            "symbolType": "stroke", "symbolSize": 64, "symbolStrokeWidth": 1.2, "symbolOffset": 10,
            "labelFontSize": 8, "labelColor": "#333", "labelOffset": 5, "rowPadding": 3.4, "clipHeight": 9, "padding": 4,
            "fillColor": "white", "strokeColor": "#999",
            "encode": {"symbols": {"update": {"opacity": {"value": 1}, "strokeDash": {"signal": "datum.value === 'Heat extraction [W/m]' ? [2, 1.5] : [1, 0]"}}}}
          }
        },
        "shape": {
          "field": "box", "type": "nominal",
          "scale": {"domain": ["b1", "b2", "b3", "b4"], "range": ["M-1,-1H1V1H-1Z M-0.7,0L-0.2,0.6L0.7,-0.8", "square", "square", "square"]},
          "legend": {
            "orient": "none", "legendX": 758, "legendY": 43, "title": null,
            "symbolSize": 36, "labelFontSize": 8, "labelOpacity": 0, "rowPadding": 3.4, "clipHeight": 9, "padding": 4,
            "encode": {"symbols": {"update": {"opacity": {"value": 1}, "fill": {"value": "white"}, "stroke": {"value": "#666"}, "strokeWidth": {"value": 1}}}}
          }
        }
      }
    }
  ]
}
